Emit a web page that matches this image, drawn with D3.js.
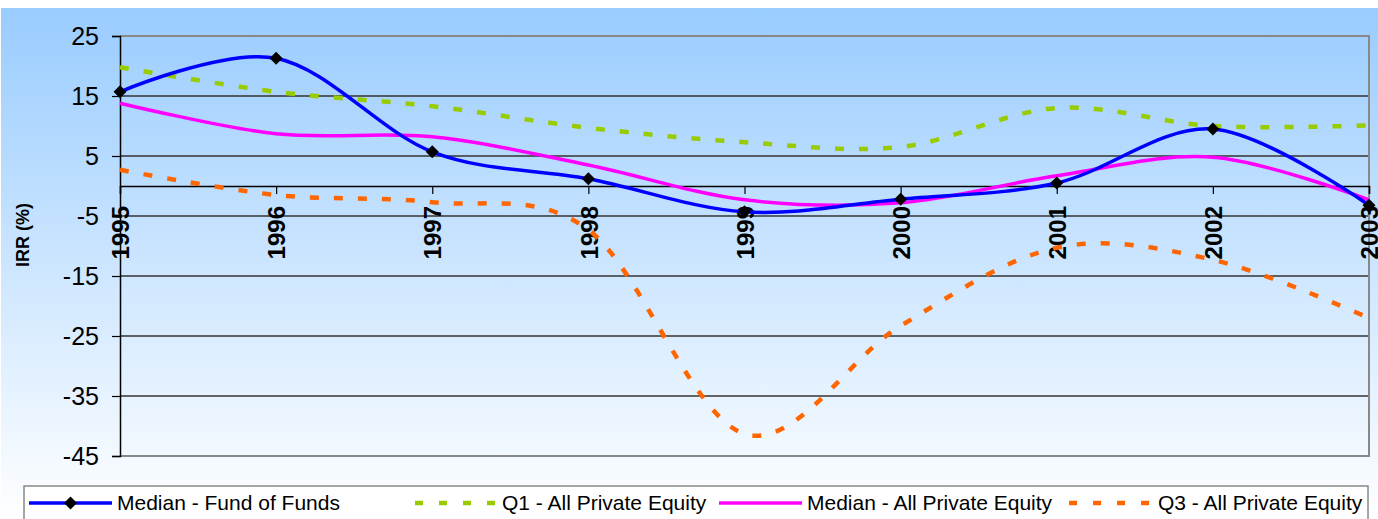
<!DOCTYPE html>
<html>
<head>
<meta charset="utf-8">
<script src="https://cdn.jsdelivr.net/npm/d3@7"></script>
<style>
  html, body { margin: 0; padding: 0; background: #ffffff; }
  svg { display: block; }
  text { font-family: Arial, "Liberation Sans", sans-serif; }
</style>
</head>
<body>
<svg id="chart" width="1378" height="519"></svg>
<script>
// Vintage years
const years = [1995, 1996, 1997, 1998, 1999, 2000, 2001, 2002, 2003];

// IRR (%) by vintage year
const medianFoF   = [15.7, 21.3, 5.7, 1.2, -4.3, -2.2, 0.5, 9.5, -3.2];
const q1AllPE     = [19.8, 15.7, 13.3, 9.7, 7.3, 6.5, 13.0, 10.0, 10.1];
const medianAllPE = [13.8, 8.7, 8.2, 3.5, -2.3, -2.8, 1.7, 4.8, -2.3];
const q3AllPE     = [2.7, -1.5, -2.7, -7.3, -41.3, -23.3, -10.3, -12.3, -22.0];

const yTicks = [25, 15, 5, -5, -15, -25, -35, -45];

const seriesNames = ["Median - Fund of Funds", "Q1 - All Private Equity",
                     "Median - All Private Equity", "Q3 - All Private Equity"];

const series = [
  { name: seriesNames[0], values: medianFoF,   color: "#0000FF", width: 3.5, dash: null,   marker: true },
  { name: seriesNames[1], values: q1AllPE,     color: "#99CC00", width: 4.5, dash: "9,15", marker: false },
  { name: seriesNames[2], values: medianAllPE, color: "#FF00FF", width: 3.5, dash: null,   marker: false },
  { name: seriesNames[3], values: q3AllPE,     color: "#FF6600", width: 4.5, dash: "9,15", marker: false }
];

const svg = d3.select("#chart");

// Background gradient: light blue fading to white
const defs = svg.append("defs");
const grad = defs.append("linearGradient")
  .attr("id", "bg").attr("x1", 0).attr("y1", 0).attr("x2", 0).attr("y2", 1);
grad.append("stop").attr("offset", "0%").attr("stop-color", "#99CCFF");
grad.append("stop").attr("offset", "100%").attr("stop-color", "#FFFFFF");

svg.append("rect").attr("x", 1).attr("y", 8).attr("width", 1377).attr("height", 511)
  .attr("fill", "url(#bg)");

const x = d3.scaleLinear().domain([1995, 2003]).range([120, 1369]);
const y = d3.scaleLinear().domain([-45, 25]).range([456, 36]);

// Horizontal gridlines
svg.append("g").selectAll("line").data(yTicks.filter(v => v !== 25 && v !== -45)).join("line")
  .attr("x1", x(1995)).attr("x2", x(2003))
  .attr("y1", d => y(d)).attr("y2", d => y(d))
  .attr("stroke", "#333333").attr("stroke-width", 1.3);

// Plot border (top, right, bottom)
svg.append("path")
  .attr("d", `M${x(1995)},${y(25)}H${x(2003)}V${y(-45)}H${x(1995)}`)
  .attr("fill", "none").attr("stroke", "#888888").attr("stroke-width", 2);

// Y axis
const yAxis = d3.axisLeft(y).tickValues(yTicks).tickSize(8).tickPadding(13).tickFormat(d => String(d));
const gy = svg.append("g").attr("transform", `translate(${x(1995)},0)`).call(yAxis);
gy.select(".domain").attr("stroke", "#000").attr("stroke-width", 1.5);
gy.selectAll(".tick line").attr("stroke", "#000").attr("stroke-width", 1.2);
gy.selectAll(".tick text").attr("font-size", 25).attr("fill", "#000")
  .attr("font-family", "Arial, 'Liberation Sans', sans-serif");

// X axis along zero line
const xAxis = d3.axisBottom(x).tickValues(years).tickSize(8).tickFormat(d => String(d));
const gx = svg.append("g").attr("transform", `translate(0,${y(0)})`).call(xAxis);
gx.select(".domain").attr("stroke", "#000").attr("stroke-width", 1.5);
gx.selectAll(".tick line").attr("stroke", "#000").attr("stroke-width", 1.2);
gx.selectAll(".tick text")
  .attr("font-size", 24).attr("font-weight", "bold").attr("fill", "#000")
  .attr("font-family", "Arial, 'Liberation Sans', sans-serif")
  .attr("transform", "rotate(-90)")
  .attr("text-anchor", "end")
  .attr("dy", "0.36em")
  .attr("x", -20)
  .attr("y", 0);

// Y axis title
svg.append("text")
  .attr("transform", `translate(29,235) rotate(-90)`)
  .attr("text-anchor", "middle")
  .attr("font-size", 18).attr("font-weight", "bold").attr("fill", "#000")
  .text("IRR (%)");

// Series lines
const line = d3.line()
  .x((d, i) => x(years[i]))
  .y(d => y(d))
  .curve(d3.curveCatmullRom.alpha(0));

const drawOrder = [3, 1, 2, 0];
drawOrder.forEach(k => {
  const s = series[k];
  svg.append("path")
    .attr("d", line(s.values))
    .attr("fill", "none")
    .attr("stroke", s.color)
    .attr("stroke-width", s.width)
    .attr("stroke-dasharray", s.dash)
    .attr("stroke-linecap", "butt")
    .attr("stroke-linejoin", "round");
});

// Diamond markers
const diamond = (cx, cy, r) => `M${cx},${cy - r}L${cx + r},${cy}L${cx},${cy + r}L${cx - r},${cy}Z`;
svg.append("g").selectAll("path").data(medianFoF).join("path")
  .attr("d", (d, i) => diamond(x(years[i]), y(d), 6.5))
  .attr("fill", "#000");

// Legend
const lg = svg.append("g");
lg.append("rect").attr("x", 24).attr("y", 486).attr("width", 1344).attr("height", 40)
  .attr("fill", "#FFFFFF").attr("stroke", "#888888").attr("stroke-width", 1.5);

const legendPos = [
  { x0: 29, x1: 112, tx: 117 },
  { x0: 415, x1: 498, tx: 502 },
  { x0: 719, x1: 802, tx: 807 },
  { x0: 1069, x1: 1152, tx: 1158 }
];
const ly = 503;
series.forEach((s, i) => {
  const p = legendPos[i];
  lg.append("line")
    .attr("x1", p.x0).attr("x2", p.x1).attr("y1", ly).attr("y2", ly)
    .attr("stroke", s.color).attr("stroke-width", s.width)
    .attr("stroke-dasharray", s.dash ? "8,16" : null);
  if (s.marker) {
    lg.append("path").attr("d", diamond((p.x0 + p.x1) / 2, ly, 6.5)).attr("fill", "#000");
  }
  lg.append("text")
    .attr("x", p.tx).attr("y", ly).attr("dy", "0.35em")
    .attr("font-size", 21).attr("fill", "#000")
    .text(s.name);
});
</script>
</body>
</html>
